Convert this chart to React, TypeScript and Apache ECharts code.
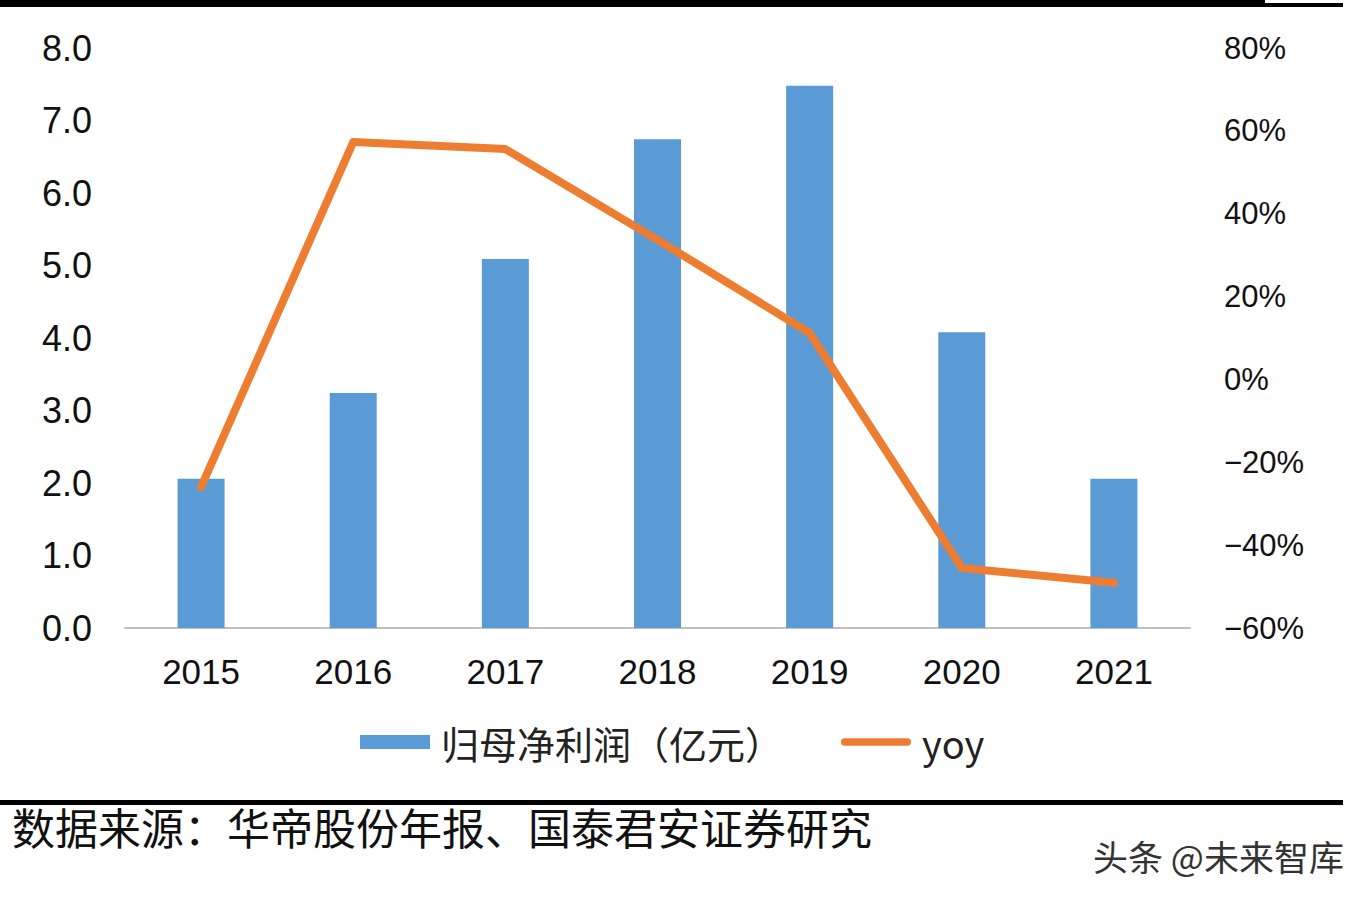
import React, { useEffect, useRef } from "react";
import * as echarts from "echarts";

const years = ["2015", "2016", "2017", "2018", "2019", "2020", "2021"];
const netProfit = [2.06, 3.24, 5.09, 6.74, 7.48, 4.08, 2.06];
const yoy = [-26, 57.3, 55.6, 33.7, 11.2, -45.5, -49.1];
const barName = "归母净利润（亿元）";
const lineName = "yoy";
const sourceText = "数据来源：华帝股份年报、国泰君安证券研究";
const watermark = "头条 @未来智库";

export default function App() {
  const ref = useRef<HTMLDivElement>(null);
  useEffect(() => {
    document.body.style.margin = "0";
    const chart = echarts.init(ref.current!, null, { renderer: "svg" });
    const latin = "'Liberation Sans', Arial, sans-serif";
    chart.setOption({
      animation: false,
      backgroundColor: "#ffffff",
      grid: { left: 125, right: 180, top: 48, bottom: 274, containLabel: false },
      legend: {
        left: 360,
        top: 723,
        padding: 0,
        itemWidth: 70,
        itemHeight: 14,
        itemGap: 58,
        data: [
          { name: barName, icon: "rect" },
          { name: lineName, icon: "path://M4,0 L73,0 A4,4 0 0 1 73,8 L4,8 A4,4 0 0 1 4,0 Z" },
        ],
        textStyle: {
          fontSize: 38,
          color: "#222",
          fontFamily: "'Noto Sans CJK SC', sans-serif",
          padding: [0, 0, 0, 6],
        },
      },
      xAxis: {
        type: "category",
        data: years,
        axisLine: { lineStyle: { color: "#BFBFBF", width: 2 } },
        axisTick: { show: false },
        axisLabel: {
          fontSize: 35,
          color: "#111",
          margin: 26,
          fontFamily: latin,
        },
      },
      yAxis: [
        {
          type: "value",
          min: 0,
          max: 8,
          interval: 1,
          splitLine: { show: false },
          axisLine: { show: false },
          axisTick: { show: false },
          axisLabel: {
            fontSize: 36,
            color: "#111",
            margin: 33,
            fontFamily: latin,
            formatter: (v: number) => v.toFixed(1),
          },
        },
        {
          type: "value",
          min: -60,
          max: 80,
          interval: 20,
          position: "right",
          splitLine: { show: false },
          axisLine: { show: false },
          axisTick: { show: false },
          axisLabel: {
            fontSize: 31,
            color: "#111",
            margin: 34,
            fontFamily: latin,
            formatter: (v: number) => (v < 0 ? "−" + Math.abs(v) + "%" : v + "%"),
          },
        },
      ],
      series: [
        {
          name: barName,
          type: "bar",
          data: netProfit,
          barWidth: 47,
          itemStyle: { color: "#5B9BD5" },
          z: 2,
        },
        {
          name: lineName,
          type: "line",
          yAxisIndex: 1,
          data: yoy,
          symbol: "none",
          lineStyle: { color: "#ED7D31", width: 8, cap: "round", join: "round" },
          itemStyle: { color: "#ED7D31" },
          z: 3,
        },
      ],
      graphic: [
        { type: "rect", left: 0, top: 0, shape: { width: 1343, height: 7 }, style: { fill: "#000" } },
        { type: "rect", left: 1265, top: 0, shape: { width: 78, height: 3 }, style: { fill: "#fff" } },
        { type: "rect", left: 0, top: 800, shape: { width: 1343, height: 5 }, style: { fill: "#000" } },
        {
          type: "text",
          left: 12,
          top: 804,
          style: {
            text: sourceText,
            fontSize: 43,
            fill: "#111",
            fontFamily: "'Noto Sans CJK SC', sans-serif",
          },
        },
        {
          type: "text",
          left: 1093,
          top: 838,
          style: {
            text: watermark,
            fontSize: 35,
            fill: "#333",
            fontFamily: "'Noto Sans CJK SC', sans-serif",
          },
        },
      ],
    });
    return () => chart.dispose();
  }, []);
  return <div ref={ref} style={{ width: 1370, height: 902 }} />;
}
